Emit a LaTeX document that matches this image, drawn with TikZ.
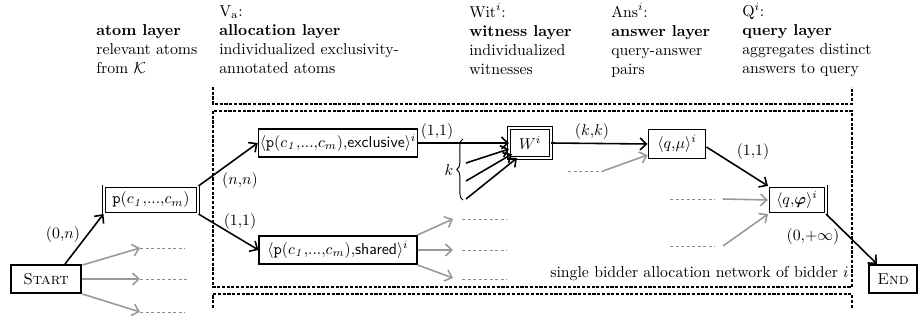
\documentclass[tikz,border=0pt]{standalone}
\usepackage{amsmath,amssymb}
\usetikzlibrary{arrows.meta,calc,decorations.pathreplacing}
\newcommand{\pcm}{\mathtt{p}(c_{\mathit{1}}{,}{.}{.}{.}{,}c_m)}
\begin{document}
\begin{tikzpicture}[x=0.633pt,y=-0.633pt,
  box/.style={draw, line width=0.7pt, inner sep=1pt, minimum height=17.7pt},
  dbox/.style={draw, line width=0.6pt, double, double distance=1.2pt, inner sep=1pt},
  tbox/.style={draw, line width=1.5pt, inner sep=1pt, minimum width=44.7pt, minimum height=17.5pt},
  conn/.style={line width=1pt, -{Straight Barb[length=4pt,width=7.5pt]}},
  garr/.style={conn, draw=black!40},
  gdash/.style={draw=black!45, line width=0.6pt, dash pattern=on 2pt off 1.5pt},
  dframe/.style={line width=0.7pt, dash pattern=on 2pt off 1pt},
  hdr/.style={align=left, inner sep=0pt, anchor=north west},
  lbl/.style={inner sep=0pt}]
\useasboundingbox (0,0) rectangle (920,320);

% headers
\node[hdr] (h1) at (96,22) {\strut\textbf{atom layer}\\relevant atoms\\from $\mathcal{K}$};
\node[hdr] (h2) at (219,3) {\strut$\mathrm{V}_\mathrm{a}$:\\\textbf{allocation layer}\\individualized exclusivity-\\annotated atoms};
\node[hdr] (h3) at (469,3) {\strut$\mathrm{Wit}^i$:\\\textbf{witness layer}\\individualized\\witnesses};
\node[hdr] (h4) at (611,3) {\strut$\mathrm{Ans}^i$:\\\textbf{answer layer}\\query-answer\\pairs};
\node[hdr] (h5) at (742,3) {\strut$\mathrm{Q}^i$:\\\textbf{query layer}\\aggregates distinct\\answers to query};

% dashed frames
\draw[dframe] (213,87) -- (213,104) -- (852,104) -- (852,87);
\draw[dframe] (213,111) rectangle (852,287);
\draw[dframe] (213,308) -- (213,294) -- (852,294) -- (852,308);
\node[lbl, anchor=east] (net) at (849,274) {single bidder allocation network of bidder $i$};

% nodes
\node[tbox] (start) at (46,279) {\textsc{Start}};
\node[dbox, minimum width=59.6pt, minimum height=17.2pt] (p) at (151,200) {$\pcm$};
\node[box, minimum width=100pt] (excl) at (338,143) {$\langle\pcm{,}\text{\textsf{exclusive}}\rangle^i$};
\node[box, minimum width=100pt] (shared) at (338,250) {$\langle\pcm{,}\text{\textsf{shared}}\rangle^i$};
\node[dbox, minimum width=26.1pt, minimum height=18.5pt] (W) at (530,143) {$W^i$};
\node[box, minimum width=36.6pt, minimum height=18.3pt] (qmu) at (677,144) {$\langle q{,}\mu\rangle^i$};
\node[dbox, minimum width=36.2pt, minimum height=17.2pt] (qphi) at (797,200) {$\langle q{,}\boldsymbol{\varphi}\rangle^i$};
\node[tbox, minimum width=30.1pt] (end) at (893,279) {\textsc{End}};

% black connectors
\draw[conn] ($(start.north)+(19,0)$) -- (p.south west);
\draw[conn] (p.north east) -- (excl.west);
\draw[conn] (p.south east) -- (shared.west);
\draw[conn] (excl.east) -- (W.west);
\coordinate (b1) at (466,163);
\coordinate (b2) at (466,181);
\coordinate (b3) at (466,199);
\draw[conn] (b1) -- ($(W.south west)+(0,-9)$);
\draw[conn] (b2) -- ($(W.south west)+(3,-4)$);
\draw[conn] (b3) -- ($(W.south west)+(8,0)$);
\draw[line width=0.6pt, decorate, decoration={brace, amplitude=4pt}] (463,200) -- (463,139);
\draw[conn] (W.east) -- (qmu.west);
\draw[conn] ($(qmu.east)+(0,3)$) -- (qphi.north west);
\draw[conn] (qphi.south east) -- ($(end.north)+(-16,0)$);

% labels
\node[lbl] (l1) at (63,235) {$(0{,}n)$};
\node[lbl] (l2) at (240,181) {$(n{,}n)$};
\node[lbl] (l3) at (240,222) {$(1{,}1)$};
\node[lbl] (l4) at (437,132) {$(1{,}1)$};
\node[lbl] (lk) at (449,170) {$k$};
\node[lbl] (l5) at (592,132) {$(k{,}k)$};
\node[lbl] (l6) at (753,152) {$(1{,}1)$};
\node[lbl] (l7) at (813,237) {$(0{,}{+}\infty)$};

% gray from start
\coordinate (gs1) at (140,248); \coordinate (gs1e) at (185,248);
\coordinate (gs2) at (140,279); \coordinate (gs2e) at (187,279);
\coordinate (gs3) at (140,312); \coordinate (gs3e) at (185,312);
\draw[garr] ($(start.east)+(0,-14)$) -- (gs1);
\draw[garr] (start.east) -- (gs2);
\draw[garr] ($(start.east)+(0,15)$) -- (gs3);
\draw[gdash] (gs1) -- (gs1e);
\draw[gdash] (gs2) -- (gs2e);
\draw[gdash] (gs3) -- (gs3e);

% gray from shared
\coordinate (gh1) at (453,219); \coordinate (gh1a) at (462,219); \coordinate (gh1e) at (507,219);
\coordinate (gh2) at (453,250); \coordinate (gh2a) at (462,250); \coordinate (gh2e) at (507,250);
\coordinate (gh3) at (453,278); \coordinate (gh3a) at (462,279); \coordinate (gh3e) at (507,279);
\draw[garr] ($(shared.east)+(0,-15)$) -- (gh1);
\draw[garr] (shared.east) -- (gh2);
\draw[garr] ($(shared.east)+(0,15)$) -- (gh3);
\draw[gdash] (gh1a) -- (gh1e);
\draw[gdash] (gh2a) -- (gh2e);
\draw[gdash] (gh3a) -- (gh3e);

% gray into qmu
\coordinate (gm0) at (568,171); \coordinate (gm1) at (603,171);
\draw[gdash] (gm0) -- (gm1);
\draw[garr] (gm1) -- ($(qmu.south west)+(0,-4)$);

% gray into qphi
\coordinate (gp0) at (670,199); \coordinate (gp1) at (715,199); \coordinate (gp2) at (723,199);
\coordinate (gq0) at (670,246); \coordinate (gq1) at (715,246); \coordinate (gq2) at (723,246);
\draw[gdash] (gp0) -- (gp1);
\draw[garr] (gp2) -- (qphi.west);
\draw[gdash] (gq0) -- (gq1);
\draw[garr] (gq2) -- (qphi.south west);
\end{tikzpicture}
\end{document}
